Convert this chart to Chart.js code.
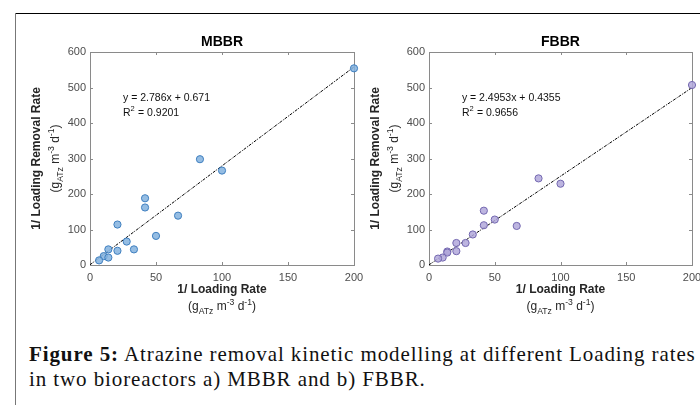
<!DOCTYPE html>
<html>
<head>
<meta charset="utf-8">
<script src="https://cdn.jsdelivr.net/npm/chart.js@4"></script>
<style>
  body { margin: 0; background: #fff; width: 700px; height: 405px; position: relative; overflow: hidden; }
  #frameTop { position: absolute; left: 16px; top: 13px; width: 684px; height: 1px; background: #000; }
  #frameLeft { position: absolute; left: 15px; top: 13px; width: 1px; height: 392px; background: #777; }
  .box { position: absolute; top: 14px; height: 306px; }
  #leftBox { left: 17px; width: 350px; }
  #rightBox { left: 360px; width: 340px; }
  #caption { position: absolute; left: 29px; top: 342px; font-family: "Liberation Serif", serif; font-size: 21px; letter-spacing: 0.9px; line-height: 25px; color: #111; white-space: nowrap; }
</style>
</head>
<body>
<div id="frameTop"></div>
<div id="frameLeft"></div>
<div class="box" id="leftBox"><canvas id="mbbr"></canvas></div>
<div class="box" id="rightBox"><canvas id="fbbr"></canvas></div>
<div id="caption"><b>Figure 5:</b> Atrazine removal kinetic modelling at different Loading rates<br>in two bioreactors a) MBBR and b) FBBR.</div>

<script>
// data
const xTicks = [0, 50, 100, 150, 200];
const yTicks = [0, 100, 200, 300, 400, 500, 600];

const mbbrX = [200, 83.3, 100, 41.7, 41.7, 66.7, 20.8, 50, 27.8, 33.3, 13.9, 20.8, 10.4, 13.9, 6.9];
const mbbrY = [554, 298, 266, 188, 162, 139, 114, 82, 66, 44, 44, 40, 25, 21, 13];
const mbbrFitX = [0, 200];
const mbbrFitY = [0.671, 557.9];

const fbbrX = [200, 83.3, 100, 41.7, 41.7, 50, 66.7, 33.3, 20.8, 27.8, 20.8, 13.9, 13.9, 10.4, 6.9];
const fbbrY = [507, 244, 229, 153, 112, 128, 110, 86, 62, 62, 39, 38, 35, 21, 18];
const fbbrFitX = [0, 200];
const fbbrFitY = [0.4355, 499.5];

const FONT = '"Liberation Sans", Arial, sans-serif';
const BOX = '#8a8a8a';

// draw text pieces with sub/superscripts, centred on x,y
function drawRich(ctx, parts, x, y, size, weight, rot) {
  ctx.save();
  ctx.translate(x, y);
  if (rot) ctx.rotate(rot);
  ctx.textBaseline = 'middle';
  ctx.textAlign = 'left';
  let total = 0;
  parts.forEach(p => {
    let s = p.sub || p.sup ? size * 0.72 : size;
    ctx.font = weight + ' ' + s + 'px ' + FONT;
    p.w = ctx.measureText(p.t).width;
    total += p.w;
  });
  let cx = -total / 2;
  parts.forEach(p => {
    let s = p.sub || p.sup ? size * 0.72 : size;
    ctx.font = weight + ' ' + s + 'px ' + FONT;
    let dy = p.sub ? size * 0.38 : (p.sup ? -size * 0.38 : 0);
    ctx.fillText(p.t, cx, dy);
    cx += p.w;
  });
  ctx.restore();
}

const unitParts = () => [
  {t: '(g'}, {t: 'ATz', sub: true}, {t: ' m'}, {t: '-3', sup: true},
  {t: ' d'}, {t: '-1', sup: true}, {t: ')'}
];

const decor = {
  id: 'decor',
  beforeDatasetsDraw(chart) {
    const ctx = chart.ctx, a = chart.chartArea;
    ctx.save();
    ctx.strokeStyle = BOX;
    ctx.lineWidth = 1;
    ctx.strokeRect(Math.round(a.left) + 0.5, Math.round(a.top) + 0.5, Math.round(a.right - a.left), Math.round(a.bottom - a.top));
    ctx.beginPath();
    xTicks.forEach(v => {
      let px = Math.round(chart.scales.x.getPixelForValue(v)) + 0.5;
      ctx.moveTo(px, a.bottom); ctx.lineTo(px, a.bottom - 3);
      ctx.moveTo(px, a.top); ctx.lineTo(px, a.top + 3);
    });
    yTicks.forEach(v => {
      let py = Math.round(chart.scales.y.getPixelForValue(v)) + 0.5;
      ctx.moveTo(a.left, py); ctx.lineTo(a.left + 3, py);
      ctx.moveTo(a.right, py); ctx.lineTo(a.right - 3, py);
    });
    ctx.stroke();
    ctx.restore();
  },
  afterDraw(chart) {
    const ctx = chart.ctx, a = chart.chartArea, o = chart.options.plugins.decor;
    const midX = (a.left + a.right) / 2, midY = (a.top + a.bottom) / 2;
    ctx.save();
    ctx.fillStyle = '#000';
    drawRich(ctx, [{t: o.title}], midX, a.top - 10, 14, 'bold', 0);
    ctx.fillStyle = '#262626';
    drawRich(ctx, [{t: '1/ Loading Rate'}], midX, a.bottom + 25, 12, 'bold', 0);
    drawRich(ctx, unitParts(), midX, a.bottom + 42, 12, 'normal', 0);
    drawRich(ctx, [{t: '1/ Loading Removal Rate'}], a.left - 53, midY, 12, 'bold', -Math.PI / 2);
    drawRich(ctx, unitParts(), a.left - 34, midY, 12, 'normal', -Math.PI / 2);
    // equation text
    ctx.fillStyle = '#111';
    ctx.font = '10.5px ' + FONT;
    ctx.textAlign = 'left';
    ctx.textBaseline = 'middle';
    let ex = chart.scales.x.getPixelForValue(25);
    let ey = chart.scales.y.getPixelForValue(470);
    ctx.fillText(o.eq, ex, ey);
    ctx.fillText('R', ex, ey + 15);
    let rw = ctx.measureText('R').width;
    ctx.font = '7.5px ' + FONT;
    ctx.fillText('2', ex + rw, ey + 11);
    ctx.font = '10.5px ' + FONT;
    ctx.fillText(' = ' + o.r2, ex + rw + 4.5, ey + 15);
    ctx.restore();
  }
};

function makeChart(id, title, xs, ys, fitX, fitY, eq, r2, fill, edge, padL, padR) {
  const pts = xs.map((x, i) => ({x: x, y: ys[i]}));
  const fit = fitX.map((x, i) => ({x: x, y: fitY[i]}));
  return new Chart(document.getElementById(id), {
    type: 'scatter',
    data: {
      datasets: [
        {
          type: 'line', data: fit, borderColor: '#000', borderWidth: 1,
          borderDash: [3, 1.2, 1, 1.2], pointRadius: 0, clip: false, order: 2
        },
        {
          data: pts, backgroundColor: fill, borderColor: edge, borderWidth: 1,
          pointRadius: 3.6, clip: false, order: 1
        }
      ]
    },
    options: {
      responsive: true,
      maintainAspectRatio: false,
      animation: false,
      layout: { padding: { left: padL, right: padR, top: 38, bottom: 15 } },
      plugins: {
        legend: { display: false },
        tooltip: { enabled: false },
        decor: { title: title, eq: eq, r2: r2 }
      },
      scales: {
        x: {
          type: 'linear', min: 0, max: 200,
          afterBuildTicks: s => { s.ticks = xTicks.map(v => ({value: v})); },
          afterFit: s => { s.height = 40; s.paddingLeft = 0; s.paddingRight = 0; },
          grid: { display: false, drawTicks: false },
          border: { display: false },
          ticks: { padding: 6, color: '#4d4d4d', font: { family: FONT, size: 11 } }
        },
        y: {
          type: 'linear', min: 0, max: 600,
          afterBuildTicks: s => { s.ticks = yTicks.map(v => ({value: v})); },
          afterFit: s => { s.width = 40; s.paddingTop = 0; s.paddingBottom = 0; },
          grid: { display: false, drawTicks: false },
          border: { display: false },
          ticks: { padding: 4, color: '#4d4d4d', font: { family: FONT, size: 11 } }
        }
      }
    },
    plugins: [decor]
  });
}

makeChart('mbbr', 'MBBR', mbbrX, mbbrY, mbbrFitX, mbbrFitY, 'y = 2.786x + 0.671', '0.9201',
  'rgba(130,178,222,0.85)', '#3f7fbf', 33, 13);
makeChart('fbbr', 'FBBR', fbbrX, fbbrY, fbbrFitX, fbbrFitY, 'y = 2.4953x + 0.4355', '0.9656',
  'rgba(178,168,218,0.85)', '#7468b0', 29, 8);
</script>
</body>
</html>
